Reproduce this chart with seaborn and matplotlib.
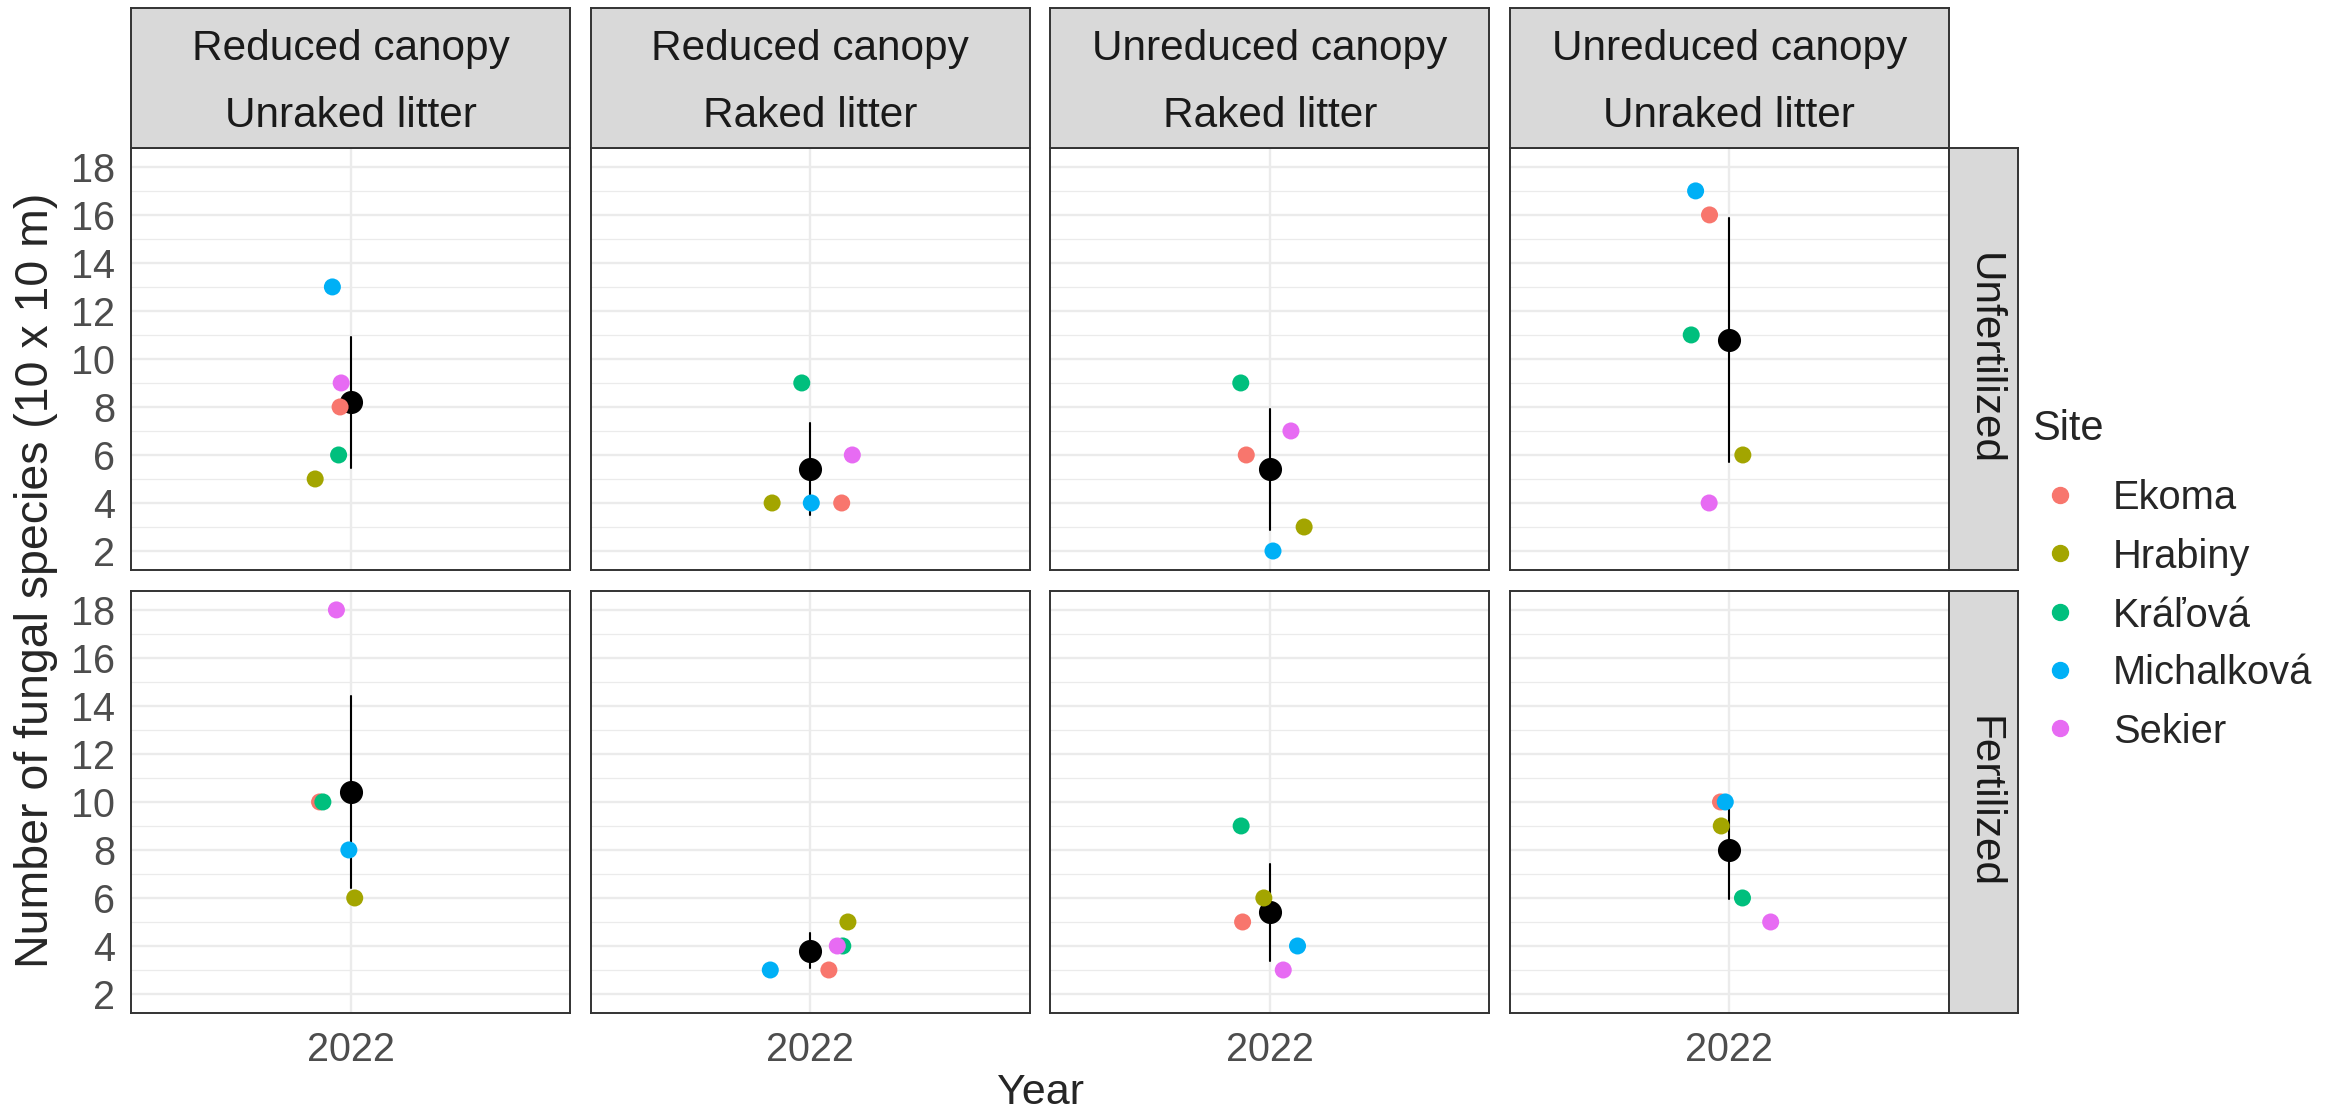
import matplotlib
matplotlib.use("Agg")
import matplotlib.pyplot as plt
from matplotlib.lines import Line2D
import numpy as np
import pandas as pd
import seaborn as sns

# ---------------- data ----------------
sites = ["Ekoma", "Hrabiny", "Kráľová", "Michalková", "Sekier"]
treatments = ["Reduced canopy\nUnraked litter", "Reduced canopy\nRaked litter",
              "Unreduced canopy\nRaked litter", "Unreduced canopy\nUnraked litter"]
fertilization = ["Unfertilized", "Fertilized"]
year = 2022
y_ticks = [2, 4, 6, 8, 10, 12, 14, 16, 18]

# species counts per treatment, in site order
unfert_counts = [[8, 5, 6, 13, 9], [4, 4, 9, 4, 6], [6, 3, 9, 2, 7], [16, 6, 11, 17, 4]]
fert_counts = [[10, 6, 10, 8, 18], [3, 5, 4, 3, 4], [5, 6, 9, 4, 3], [10, 9, 6, 10, 5]]
# horizontal jitter (in years) as observed in the figure
unfert_jitter = [[-0.029, -0.097, -0.033, -0.050, -0.026],
                 [0.086, -0.104, -0.023, 0.003, 0.115],
                 [-0.064, 0.094, -0.079, 0.009, 0.058],
                 [-0.054, 0.037, -0.104, -0.092, -0.055]]
fert_jitter = [[-0.085, 0.011, -0.076, -0.005, -0.039],
               [0.051, 0.103, 0.089, -0.109, 0.074],
               [-0.074, -0.016, -0.078, 0.076, 0.037],
               [-0.024, -0.022, 0.036, -0.011, 0.113]]

palette = ["#F8766D", "#A3A500", "#00BF7D", "#00B0F6", "#E76BF3"]

rows = []
for f, counts, jit in [("Unfertilized", unfert_counts, unfert_jitter),
                       ("Fertilized", fert_counts, fert_jitter)]:
    for ti, t in enumerate(treatments):
        for si, s in enumerate(sites):
            rows.append(dict(Fertilization=f, Treatment=t, Site=s, Year=year,
                             YearJitter=year + jit[ti][si], Species=counts[ti][si]))
df = pd.DataFrame(rows)

# ---------------- style ----------------
sns.set_style("white")
plt.rcParams['font.family'] = ['Liberation Sans', 'DejaVu Sans']

W, H = 2341, 1113
fig = plt.figure(figsize=(W / 100, H / 100), dpi=100)


def fx(px):
    return px / W


def fy(py):
    return 1 - py / H


col_left = [131, 590.5, 1050, 1509.6]
pw = 439.4
row_top = [147.7, 590.7]
ph = 422.5
strip_top = 7.5
rstrip = (1949, 2018)

border = "#333333"
strip_fill = "#D9D9D9"
grid_c = "#EBEBEB"
tick_c = "#4D4D4D"

for ri, f in enumerate(fertilization):
    for ci, t in enumerate(treatments):
        ax = fig.add_axes([fx(col_left[ci]), fy(row_top[ri] + ph), pw / W, ph / H])
        sub = df[(df.Fertilization == f) & (df.Treatment == t)]
        ax.set_axisbelow(True)
        sns.scatterplot(data=sub, x="YearJitter", y="Species", hue="Site",
                        hue_order=sites, palette=palette, s=150, linewidth=0,
                        legend=False, ax=ax, zorder=3)
        sns.pointplot(data=sub, x="Year", y="Species", native_scale=True,
                      errorbar=("se", 1.96), color="black", markersize=15.5,
                      linewidth=1.5, ax=ax)
        ax.set_xlim(year - 0.6, year + 0.6)
        ax.set_ylim(1.2, 18.8)
        ax.set_xticks([year])
        ax.set_xticklabels([str(year)])
        ax.set_yticks(y_ticks)
        ax.set_yticks(list(range(3, 18, 2)), minor=True)
        ax.grid(which="major", color=grid_c, lw=1.7)
        ax.grid(which="minor", axis="y", color=grid_c, lw=0.9)
        ax.set_xlabel("")
        ax.set_ylabel("")
        for sp in ax.spines.values():
            sp.set_color(border)
            sp.set_linewidth(1.4)
            sp.set_visible(True)
        ax.tick_params(which="minor", length=0)
        ax.tick_params(which="major", length=5, width=1.4, color=border,
                       labelcolor=tick_c, labelsize=28.5)
        ax.tick_params(axis="y", pad=6.5)
        ax.tick_params(axis="x", pad=8)
        if ci != 0:
            ax.tick_params(axis="y", left=False, labelleft=False)
        if ri != 1:
            ax.tick_params(axis="x", bottom=False, labelbottom=False)

        # top strips
        if ri == 0:
            sax = fig.add_axes([fx(col_left[ci]), fy(row_top[0]), pw / W,
                                (row_top[0] - strip_top) / H])
            sax.set_facecolor(strip_fill)
            sax.set_xticks([]); sax.set_yticks([])
            for sp in sax.spines.values():
                sp.set_color(border); sp.set_linewidth(1.4)
            l1, l2 = t.split("\n")
            cx = fx(col_left[ci] + pw / 2)
            fig.text(cx, fy(60), l1, ha="center", va="baseline", fontsize=30.5, color="#1A1A1A")
            fig.text(cx, fy(127), l2, ha="center", va="baseline", fontsize=30.5, color="#1A1A1A")
        # right strips
        if ci == 3:
            rax = fig.add_axes([fx(rstrip[0]), fy(row_top[ri] + ph),
                                (rstrip[1] - rstrip[0]) / W, ph / H])
            rax.set_facecolor(strip_fill)
            rax.set_xticks([]); rax.set_yticks([])
            for sp in rax.spines.values():
                sp.set_color(border); sp.set_linewidth(1.4)
            fig.text(fx((rstrip[0] + rstrip[1]) / 2), fy(row_top[ri] + ph / 2), f,
                     rotation=270, ha="center", va="center", fontsize=30.5, color="#1A1A1A")

# axis titles
fig.text(fx(36), fy((row_top[0] + row_top[1] + ph) / 2), "Number of fungal species (10 x 10 m)",
         rotation=90, ha="center", va="center", fontsize=33.5)
fig.text(fx(col_left[0] + (col_left[3] + pw - col_left[0]) / 2), fy(1104), "Year",
         ha="center", va="baseline", fontsize=31)

# legend
fig.text(fx(2032), fy(440), "Site", ha="left", va="baseline", fontsize=30)
leg_marker_y = [495, 553.3, 611.7, 670, 728.3]
leg_text_y = [509.3, 567.7, 626.7, 684, 742.7]
for s, c, my, ty in zip(sites, palette, leg_marker_y, leg_text_y):
    fig.add_artist(Line2D([fx(2060)], [fy(my)], transform=fig.transFigure,
                          marker="o", markersize=11.5, color=c, linestyle="none"))
    fig.text(fx(2113), fy(ty), s, ha="left", va="baseline", fontsize=28.7)

fig.savefig("out.png", dpi=100, facecolor="white")
